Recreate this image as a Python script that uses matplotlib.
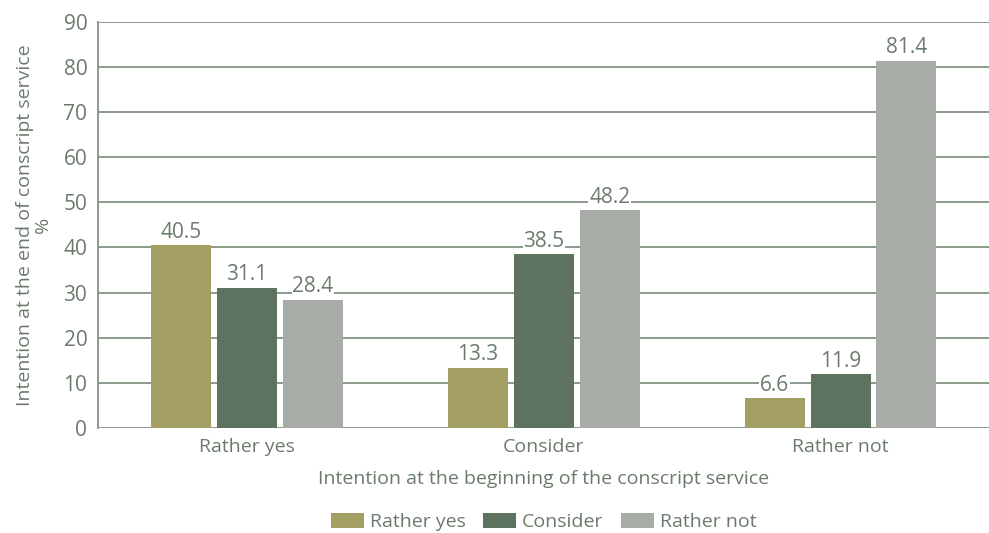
import numpy as np
import matplotlib.pyplot as plt

plt.rcParams['font.family'] = ['Open Sans', 'DejaVu Sans']

# Answer groups and the share (%) of each end-of-service intention
groups = ['Rather yes', 'Consider', 'Rather not']
series = ['Rather yes', 'Consider', 'Rather not']
rather_yes = [40.5, 13.3, 6.6]
consider = [31.1, 38.5, 11.9]
rather_not = [28.4, 48.2, 81.4]
colors = ['#a39e62', '#5e7260', '#a7aca6']
text_color = '#6b7b6b'
grid_color = '#8a9a8a'

fig = plt.figure(figsize=(9.89, 5.33), dpi=100)
ax = fig.add_axes([0.0995, 0.197, 0.9005, 0.762])

x = np.arange(len(groups))
width = 0.202
step = 0.222
for i, (name, vals) in enumerate(zip(series, [rather_yes, consider, rather_not])):
    pos = x + (i - 1) * step
    ax.bar(pos, vals, width=width, color=colors[i], label=name, zorder=2)
    for px, v in zip(pos, vals):
        ax.text(px, v + 0.6, f'{v:.1f}', ha='center', va='bottom', fontsize=15,
                color=text_color, zorder=3,
                bbox=dict(facecolor='white', edgecolor='none', pad=0.5))

ax.set_xlim(-0.5, 2.5)
ax.set_ylim(0, 90)
ax.set_yticks(range(0, 91, 10))
ax.set_xticks(x)
ax.set_xticklabels(groups)
ax.yaxis.grid(True, color=grid_color, linewidth=1.4, zorder=0)
ax.set_axisbelow(True)
for s in ['top', 'right', 'bottom']:
    ax.spines[s].set_visible(False)
ax.spines['left'].set_color(grid_color)
ax.spines['left'].set_linewidth(1.4)
ax.tick_params(axis='both', length=0, labelsize=15, labelcolor=text_color)
ax.tick_params(axis='y', pad=8)
ax.tick_params(axis='x', pad=7, labelsize=14)

ax.set_xlabel('Intention at the beginning of the conscript service', fontsize=14,
              color=text_color, labelpad=10)
ax.set_ylabel('Intention at the end of conscript service\n%', fontsize=14,
              color=text_color, labelpad=8, linespacing=1.05)

ax.legend(loc='center', bbox_to_anchor=(0.5, -0.232), ncol=3, frameon=False,
          fontsize=14, labelcolor=text_color, handlelength=1.7, handleheight=0.85,
          columnspacing=0.9, handletextpad=0.3)

fig.savefig('out.png', dpi=100)
